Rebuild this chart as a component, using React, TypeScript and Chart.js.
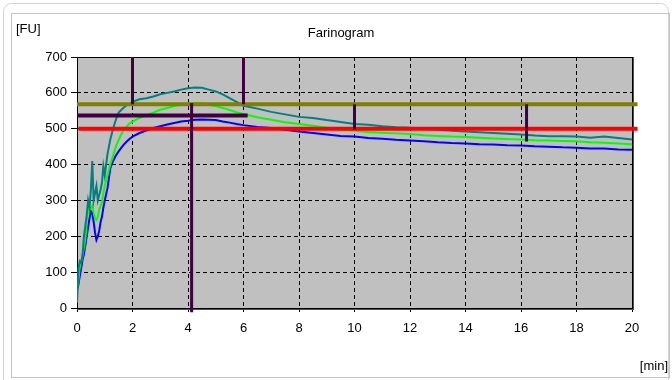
import React, { useEffect, useRef } from "react";
import { Chart, registerables } from "chart.js";

Chart.register(...registerables);

// time axis (min)
const time = [
  0, 0.05, 0.1, 0.15, 0.2, 0.25, 0.3, 0.35, 0.4, 0.45, 0.5, 0.55, 0.6, 0.65, 0.7, 0.75, 0.8, 0.85, 0.9, 0.95, 1.0,
  1.1, 1.2, 1.3, 1.4, 1.5, 1.6, 1.7, 1.8, 1.9, 2.0,
  2.25, 2.5, 2.75, 3.0, 3.25, 3.5, 3.75, 4.0, 4.25, 4.5, 4.75, 5.0, 5.25, 5.5, 5.75, 6.0,
  6.5, 7.0, 7.5, 8.0, 8.5, 9.0, 9.5, 10, 10.5, 11, 11.5, 12, 12.5, 13, 13.5, 14, 14.5, 15, 15.5, 16, 16.5, 17, 17.5, 18, 18.5, 19, 19.5, 20,
];

// upper (teal) curve, FU
const tealFU = [
  15, 110, 130, 125, 150, 200, 230, 260, 300, 280, 330, 410, 300, 320, 340, 300, 315, 330, 350, 395, 370,
  430, 470, 500, 525, 545, 553, 560, 566, 570, 575,
  582, 585, 590, 596, 600, 604, 609, 613, 615, 614, 609, 604, 596, 585, 575, 564,
  556, 547, 540, 533, 530, 524, 519, 513, 511, 507, 504, 503, 500, 497, 494, 492, 490, 488, 486, 484, 481, 479, 479, 478, 475, 478, 474, 470,
];

// middle (green) curve, FU
const greenFU = [
  55, 75, 115, 130, 145, 170, 190, 240, 270, 275, 280, 285, 265, 250, 245, 255, 275, 285, 295, 320, 340,
  370, 400, 425, 450, 468, 485, 497, 507, 515, 520,
  530, 538, 545, 553, 558, 563, 567, 570, 571, 570, 567, 563, 558, 552, 546, 541,
  532, 525, 518, 513, 508, 503, 498, 494, 491, 489, 487, 485, 482, 480, 478, 477, 475, 473, 471, 470, 468, 467, 466, 465, 462, 461, 459, 457,
];

// lower (blue) curve, FU
const blueFU = [
  50, 65, 90, 110, 135, 150, 175, 200, 225, 250, 270, 265, 240, 210, 190, 200, 215, 240, 255, 280, 300,
  335, 390, 410, 425, 437, 447, 457, 465, 472, 478,
  488, 495, 502, 507, 512, 516, 520, 522, 525, 526, 525, 524, 520, 517, 513, 510,
  505, 502, 497, 492, 488, 484, 480, 478, 474, 472, 469, 467, 465, 462, 460, 459, 457, 456, 454, 453, 451, 450, 448, 447, 445, 445, 442, 441,
];

// reference levels
const redLineX = [0.05, 20.2];
const redLineY = [500, 500];
const oliveLineX = [0, 20.2];
const oliveLineY = [568, 568];

// marker lines
const bandX = [0, 6.15];
const bandY = [537, 537];
const arrivalX = [2, 2];
const arrivalY = [700, 568];
const departureX = [6, 6];
const departureY = [700, 568];
const devTimeX = [4.13, 4.13];
const devTimeY = [572, -12];
const mark10X = [10, 10];
const mark10Y = [568, 498];
const mark16X = [16.2, 16.2];
const mark16Y = [568, 464];

// ticks
const xTicks = [0, 2, 4, 6, 8, 10, 12, 14, 16, 18, 20];
const yTicks = [0, 100, 200, 300, 400, 500, 600, 700];

const FONT = '"Liberation Sans", Arial, sans-serif';
const PURPLE = "#400040";

const pts = (xs: number[], ys: number[]) => xs.map((x, i) => ({ x, y: ys[i] }));

const framePlugin = {
  id: "frame",
  beforeDraw(chart: any) {
    const { ctx, chartArea: a } = chart;
    ctx.save();
    ctx.fillStyle = "#ffffff";
    ctx.fillRect(0, 0, chart.width, chart.height);
    ctx.strokeStyle = "#d4d4d4";
    ctx.lineWidth = 1;
    ctx.beginPath();
    ctx.roundRect(3.5, 3.5, 665, 390, 8);
    ctx.stroke();
    ctx.strokeStyle = "#c8c4bc";
    ctx.strokeRect(11.5, 13.5, 658, 364);
    ctx.fillStyle = "#c0c0c0";
    ctx.fillRect(a.left, a.top, a.right - a.left, a.bottom - a.top);
    ctx.fillStyle = "#000";
    ctx.font = `13px ${FONT}`;
    ctx.textBaseline = "middle";
    ctx.textAlign = "left";
    ctx.fillText("[FU]", 16, 29);
    ctx.textAlign = "center";
    ctx.fillText("Farinogram", 341, 33);
    ctx.textAlign = "right";
    ctx.fillText("[min]", 668, 366);
    ctx.restore();
  },
  beforeDatasetsDraw(chart: any) {
    const { ctx, chartArea: a } = chart;
    ctx.save();
    ctx.strokeStyle = "#000";
    ctx.lineWidth = 1;
    ctx.strokeRect(a.left + 0.5, a.top + 0.5, a.right - a.left, a.bottom - a.top);
    ctx.strokeStyle = "#505050";
    ctx.beginPath();
    ctx.moveTo(a.right + 1.5, a.top);
    ctx.lineTo(a.right + 1.5, a.bottom + 2);
    ctx.moveTo(a.left, a.bottom + 1.5);
    ctx.lineTo(a.right + 2, a.bottom + 1.5);
    ctx.stroke();
    ctx.restore();
  },
};

export default function App() {
  const ref = useRef<HTMLCanvasElement | null>(null);

  useEffect(() => {
    if (!ref.current) return;
    const line = (data: any, color: string, width: number, order: number, clip: any = undefined) => ({
      data,
      borderColor: color,
      backgroundColor: color,
      borderWidth: width,
      pointRadius: 0,
      tension: 0,
      fill: false,
      order,
      ...(clip === false ? { clip: false } : {}),
    });
    const chart = new Chart(ref.current, {
      type: "line",
      data: {
        datasets: [
          line(pts(bandX, bandY), PURPLE, 4, 0, false),
          line(pts(arrivalX, arrivalY), PURPLE, 3, 0, false),
          line(pts(departureX, departureY), PURPLE, 3, 0, false),
          line(pts(devTimeX, devTimeY), PURPLE, 3, 0, false),
          line(pts(mark10X, mark10Y), PURPLE, 3, 0, false),
          line(pts(mark16X, mark16Y), PURPLE, 3, 0, false),
          line(pts(oliveLineX, oliveLineY), "#808000", 4, 1, false),
          line(pts(redLineX, redLineY), "#ff0000", 4, 1, false),
          line(pts(time, tealFU), "#008080", 2, 2),
          line(pts(time, greenFU), "#00ff00", 2, 2),
          line(pts(time, blueFU), "#0000ff", 2, 2),
        ] as any,
      },
      options: {
        animation: false,
        responsive: false,
        events: [],
        layout: { padding: { top: 57, right: 40, bottom: 0, left: 0 } },
        plugins: { legend: { display: false }, tooltip: { enabled: false }, title: { display: false } },
        scales: {
          x: {
            type: "linear",
            min: 0,
            max: 20,
            afterBuildTicks: (s: any) => {
              s.ticks = xTicks.map((v) => ({ value: v }));
            },
            afterFit: (s: any) => {
              s.height = 72;
            },
            ticks: { color: "#000", font: { family: FONT, size: 13 }, padding: 9, maxRotation: 0, autoSkip: false },
            grid: { color: "#000", lineWidth: 1, tickLength: 4, tickColor: "#000" },
            border: { display: false, dash: [4, 3] },
          },
          y: {
            type: "linear",
            min: 0,
            max: 700,
            afterBuildTicks: (s: any) => {
              s.ticks = yTicks.map((v) => ({ value: v }));
            },
            afterFit: (s: any) => {
              s.width = 77;
            },
            ticks: { color: "#000", font: { family: FONT, size: 13 }, padding: 4 },
            grid: { color: "#000", lineWidth: 1, tickLength: 6, tickColor: "#000" },
            border: { display: false, dash: [4, 3] },
          },
        },
      } as any,
      plugins: [framePlugin],
    });
    return () => chart.destroy();
  }, []);

  return (
    <div style={{ position: "fixed", left: 0, top: 0, width: 672, height: 380 }}>
      <canvas ref={ref} width={672} height={380} style={{ width: 672, height: 380, display: "block" }} />
    </div>
  );
}
